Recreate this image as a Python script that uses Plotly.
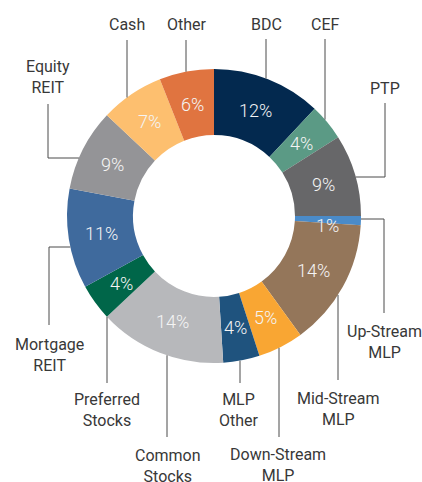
import math
import plotly.graph_objects as go

# ---- data ----
categories = ["BDC", "CEF", "PTP", "Up-Stream MLP", "Mid-Stream MLP", "Down-Stream MLP",
              "MLP Other", "Common Stocks", "Preferred Stocks", "Mortgage REIT",
              "Equity REIT", "Cash", "Other"]
label_text = ["BDC", "CEF", "PTP", "Up-Stream<br>MLP", "Mid-Stream<br>MLP", "Down-Stream<br>MLP",
              "MLP<br>Other", "Common<br>Stocks", "Preferred<br>Stocks", "Mortgage<br>REIT",
              "Equity<br>REIT", "Cash", "Other"]
values = [12, 4, 9, 1, 14, 5, 4, 14, 4, 11, 9, 7, 6]
colors = ["#03294f", "#5b9a85", "#676769", "#4a8bc9", "#94765a", "#f9a633",
          "#1f537e", "#b7b8bb", "#006649", "#3f6a9d", "#949497", "#fdbf6f", "#e07440"]

# ---- layout geometry (pixels) ----
W, H = 422, 482
CX, CY, R, RIN = 214, 216, 147, 81

def P(x, y):
    return x / W, 1 - y / H

# label block centre, leader-line start, and how the line reaches the ring
# kind 'v': vertical line at x from y0 to ring; 'hv': from (x, y0) to y1 then horizontal to ring
leaders = {
    "BDC": dict(pos=(266, 24), kind="v", x=266, y0=39, side=-1),
    "CEF": dict(pos=(325, 24), kind="v", x=325, y0=39, side=-1),
    "PTP": dict(pos=(385, 88), kind="hv", x=385, y0=103, y1=177),
    "Up-Stream MLP": dict(pos=(384, 342), kind="hv", x=384, y0=313, y1=219),
    "Mid-Stream MLP": dict(pos=(338, 409), kind="v", x=338, y0=380, side=1),
    "Down-Stream MLP": dict(pos=(278, 465), kind="v", x=279, y0=437, side=1),
    "MLP Other": dict(pos=(239, 410), kind="v", x=240, y0=383, side=1),
    "Common Stocks": dict(pos=(168, 466), kind="v", x=167, y0=437, side=1),
    "Preferred Stocks": dict(pos=(107, 410), kind="v", x=107, y0=383, side=1),
    "Mortgage REIT": dict(pos=(49, 355), kind="hv", x=49, y0=325, y1=247),
    "Equity REIT": dict(pos=(48, 77), kind="hv", x=48, y0=104, y1=158),
    "Cash": dict(pos=(127, 24), kind="v", x=127, y0=40, side=-1),
    "Other": dict(pos=(187, 24), kind="v", x=186, y0=40, side=-1),
}

fig = go.Figure()
fig.add_trace(go.Pie(
    labels=categories, values=values, sort=False, direction="clockwise", rotation=0,
    hole=RIN / R, textinfo="none", hoverinfo="label+percent",
    marker=dict(colors=colors, line=dict(width=0)),
    domain=dict(x=[(CX - R) / W, (CX + R) / W], y=[1 - (CY + R) / H, 1 - (CY - R) / H]),
    showlegend=False,
))

annotations = []
shapes = []
total = sum(values)
cum = 0
rmid = (R + RIN) / 2
for cat, txt, v in zip(categories, label_text, values):
    th = (cum + v / 2) / total * 2 * math.pi
    cum += v
    px = CX + rmid * math.sin(th)
    py = CY - rmid * math.cos(th)
    x, y = P(px, py)
    annotations.append(dict(
        x=x, y=y, xref="paper", yref="paper", text=f"{v}%", showarrow=False,
        xanchor="center", yanchor="middle", yshift=-6 if v / total < 0.02 else 0,
        font=dict(family="Roboto", size=18, color="#f4f4f4", weight=300)))
    L = leaders[cat]
    lx, ly = P(*L["pos"])
    annotations.append(dict(
        x=lx, y=ly, xref="paper", yref="paper", text=txt, showarrow=False,
        xanchor="center", yanchor="middle",
        font=dict(family="Roboto", size=16, color="#383838", weight=400)))
    if L["kind"] == "v":
        dx = L["x"] - CX
        ye = CY + L["side"] * math.sqrt(R * R - dx * dx)
        pts = [(L["x"], L["y0"]), (L["x"], ye)]
    else:
        dy = L["y1"] - CY
        xe = CX + (1 if L["x"] > CX else -1) * math.sqrt(R * R - dy * dy)
        pts = [(L["x"], L["y0"]), (L["x"], L["y1"]), (xe, L["y1"])]
    for (a, b), (c, d) in zip(pts[:-1], pts[1:]):
        x0, y0 = P(a, b)
        x1, y1 = P(c, d)
        shapes.append(dict(type="line", xref="paper", yref="paper", x0=x0, y0=y0, x1=x1, y1=y1,
                           line=dict(color="#4a4a4a", width=1)))

fig.update_layout(
    width=W, height=H, margin=dict(l=0, r=0, t=0, b=0),
    paper_bgcolor="white", plot_bgcolor="white",
    annotations=annotations, shapes=shapes,
)
fig.write_html("out.html")
